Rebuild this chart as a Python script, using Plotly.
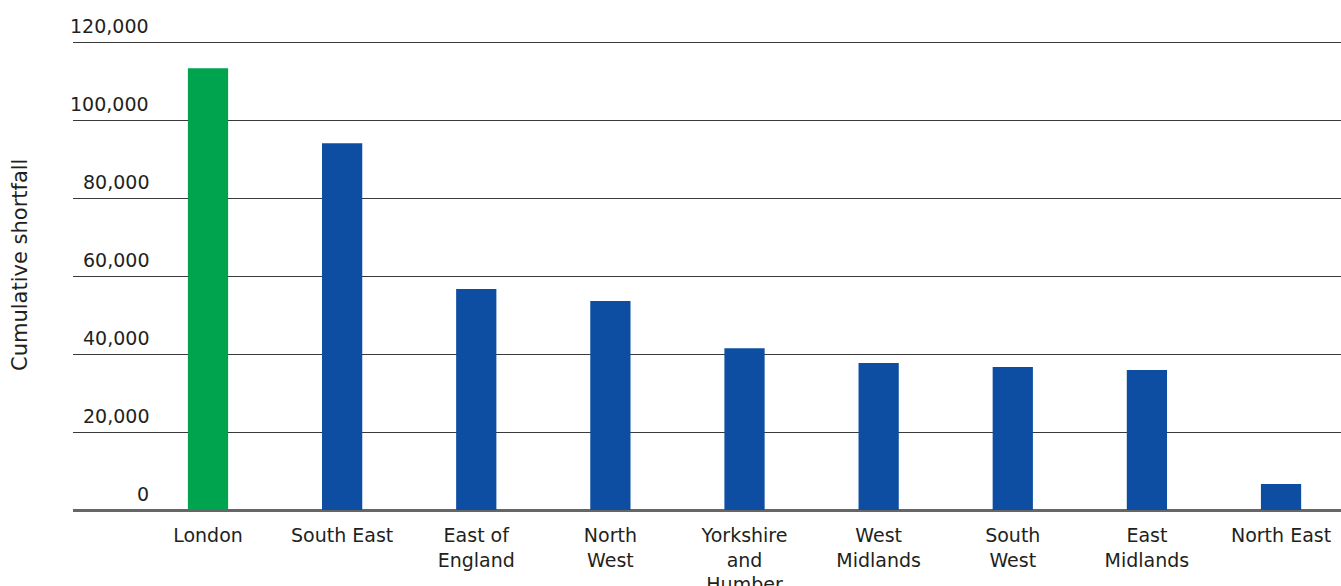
import plotly.graph_objects as go

categories = ["London", "South East", "East of<br>England", "North<br>West",
              "Yorkshire<br>and<br>Humber", "West<br>Midlands", "South<br>West",
              "East<br>Midlands", "North East"]
values = [113300, 94100, 56700, 53600, 41500, 37700, 36700, 35900, 6700]
bar_colors = ["#00A34E"] + ["#0D4EA2"] * 8
y_ticks = [0, 20000, 40000, 60000, 80000, 100000, 120000]
y_tick_labels = ["0", "20,000", "40,000", "60,000", "80,000", "100,000", "120,000"]
y_title = "Cumulative shortfall"

FONT = "DejaVu Sans"
TXT = "#231F20"
xs = list(range(len(categories)))

L, T, B = 73, 41, 76
plot_w = 1341 - L
plot_h = 586 - T - B
ymax = 120300

fig = go.Figure()
fig.add_trace(go.Bar(x=xs, y=values, marker=dict(color=bar_colors, line=dict(width=0)),
                     width=0.3, hoverinfo="skip"))

annotations = []
for v, lab in zip(y_ticks, y_tick_labels):
    annotations.append(dict(x=(151 - L) / plot_w, xref="x domain", y=v, yref="y", text=lab,
                            showarrow=False, xanchor="right", yanchor="bottom",
                            yshift=3, font=dict(family=FONT, size=19, color=TXT)))
annotations.append(dict(x=(20 - L) / plot_w, xref="x domain",
                        y=(510 - 265) / plot_h, yref="y domain", text=y_title,
                        textangle=-90, showarrow=False, xanchor="center", yanchor="middle",
                        font=dict(family=FONT, size=21, color=TXT)))

fig.update_layout(
    width=1341, height=586,
    margin=dict(l=L, r=0, t=T, b=B, autoexpand=False),
    paper_bgcolor="white", plot_bgcolor="white",
    showlegend=False,
    font=dict(family=FONT, size=19, color=TXT),
    xaxis=dict(range=[-1.0065, 8.447], tickmode="array", tickvals=xs, ticktext=categories,
               showgrid=False, zeroline=False, showline=False, ticks="",
               ticklabelstandoff=12, automargin=False,
               tickfont=dict(family=FONT, size=19, color=TXT), fixedrange=True),
    yaxis=dict(range=[0, ymax], tickvals=y_ticks, showticklabels=False,
               showgrid=True, gridcolor="#3a3a3a", gridwidth=1.3,
               zeroline=True, zerolinecolor="#666666", zerolinewidth=2.5,
               showline=False, ticks="", fixedrange=True, automargin=False),
    annotations=annotations,
)
fig.write_html("out.html")
